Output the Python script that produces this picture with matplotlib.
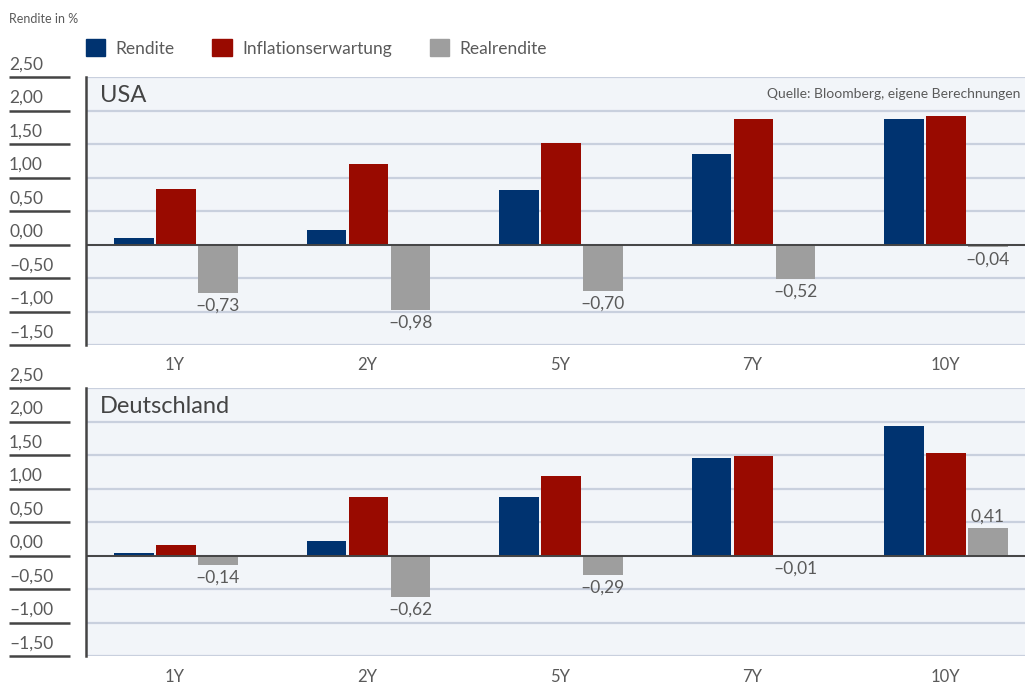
import numpy as np
import matplotlib
matplotlib.use("Agg")
import matplotlib.pyplot as plt
from matplotlib.patches import Patch
from matplotlib.transforms import blended_transform_factory

plt.rcParams['font.family'] = ['Lato', 'DejaVu Sans']

categories = ["1Y", "2Y", "5Y", "7Y", "10Y"]
series_names = ["Rendite", "Inflationserwartung", "Realrendite"]

usa_rendite = [0.10, 0.22, 0.82, 1.35, 1.88]
usa_inflation = [0.83, 1.20, 1.52, 1.87, 1.92]
usa_real = [-0.73, -0.98, -0.70, -0.52, -0.04]

de_rendite = [0.04, 0.22, 0.88, 1.45, 1.94]
de_inflation = [0.16, 0.88, 1.18, 1.48, 1.53]
de_real = [-0.14, -0.62, -0.29, -0.01, 0.41]

yticks = [-1.5, -1.0, -0.5, 0.0, 0.5, 1.0, 1.5, 2.0, 2.5]

colors = ["#003370", "#990a00", "#9e9e9e"]
txt = "#5a5a5a"
dark = "#444444"
grid_c = "#c9d0de"
bg = "#f2f5f9"

W, H = 1025, 684
fig = plt.figure(figsize=(W / 100, H / 100), dpi=100)

def fmt(v):
    s = f"{abs(v):.2f}".replace(".", ",")
    return ("\u2013" if v < 0 else "") + s

def panel(top_px, title, values, show_source):
    ax = fig.add_axes([86 / W, 1 - (top_px + 268) / H, 939 / W, 268 / H])
    ax.set_facecolor(bg)
    x = np.arange(len(categories))
    bw = 0.205
    offs = [-0.213, 0.005, 0.223]
    for vals, off, c in zip(values, offs, colors):
        ax.bar(x + off, vals, width=bw, color=c, zorder=3)
    for xi, v in zip(x, values[2]):
        if v < 0:
            ax.text(xi + offs[2], v - 0.07, fmt(v), ha="center", va="top",
                    fontsize=12.5, color=txt, zorder=4)
        else:
            ax.text(xi + offs[2], v + 0.05, fmt(v), ha="center", va="bottom",
                    fontsize=12.5, color=txt, zorder=4)
    ax.set_ylim(-1.5, 2.5)
    ax.set_xlim(-0.462, 4.416)
    for yv in yticks:
        ax.axhline(yv, color=grid_c, lw=1.6, zorder=1)
    ax.axhline(0, color=dark, lw=1.4, zorder=4)
    for s in ["top", "right", "bottom"]:
        ax.spines[s].set_visible(False)
    ax.spines["left"].set_color(dark)
    ax.spines["left"].set_linewidth(1.8)
    ax.set_yticks([])
    ax.set_xticks(x)
    ax.set_xticklabels(categories, fontsize=12, color=txt)
    ax.tick_params(axis="x", length=0, pad=9)
    # outer value scale: short lines with labels above
    tr = blended_transform_factory(ax.transAxes, ax.transData)
    x0 = (9 - 86) / 939
    x1 = (70 - 86) / 939
    for yv in yticks:
        ax.plot([x0, x1], [yv, yv], color=dark, lw=1.8, transform=tr,
                clip_on=False, solid_capstyle="butt")
        ax.text(x0, yv + 0.07, fmt(yv), transform=tr, ha="left", va="bottom",
                fontsize=12.5, color=txt)
    ax.text(14 / 939, 2.22, title, transform=tr, ha="left", va="center",
            fontsize=17, color="#444444")
    if show_source:
        ax.text(0.995, 2.25, "Quelle: Bloomberg, eigene Berechnungen",
                transform=tr, ha="right", va="center", fontsize=10, color=txt)
    return ax

panel(77, "USA", [usa_rendite, usa_inflation, usa_real], True)
panel(388, "Deutschland", [de_rendite, de_inflation, de_real], False)

fig.text(9 / W, 1 - 19 / H, "Rendite in %", fontsize=9, color=txt,
         ha="left", va="center")

handles = [Patch(color=c, label=n) for c, n in zip(colors, series_names)]
fig.legend(handles=handles, loc="center left",
           bbox_to_anchor=(70 / W, 1 - 48 / H), ncol=3, frameon=False,
           fontsize=12.5, handlelength=1.1, handleheight=1.1,
           handletextpad=0.6, columnspacing=2.2, labelcolor=txt)

fig.savefig("out.png", dpi=100)
